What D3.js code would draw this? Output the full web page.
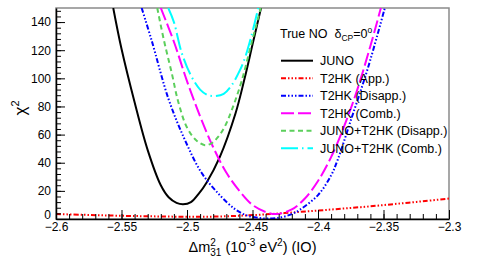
<!DOCTYPE html>
<html>
<head>
<meta charset="utf-8">
<script src="https://cdn.jsdelivr.net/npm/d3@7"></script>
<style>
  body { margin: 0; background: #fff; }
  text { font-family: "Liberation Sans", Arial, sans-serif; fill: #000; white-space: pre; }
</style>
</head>
<body>
<div id="plot"></div>
<script>
// chi2 vs dm31^2 (IO)
var juno = [[-2.5563,150],[-2.55,121],[-2.54,83],[-2.53,49],[-2.52,24],[-2.514,15.5],[-2.508,11.5],
            [-2.503,10.5],[-2.497,12],[-2.491,18],[-2.485,26],[-2.475,44],[-2.463,75],[-2.456,100],
            [-2.45,124],[-2.4435,150]];
var t2hkApp = [[-2.6,3.5],[-2.58,3.0],[-2.56,2.5],[-2.54,2.1],[-2.52,1.8],[-2.5,1.6],[-2.48,1.7],
               [-2.46,2.3],[-2.44,3.3],[-2.42,4.6],[-2.4,6.0],[-2.38,7.5],[-2.36,9.0],[-2.34,10.8],
               [-2.32,12.6],[-2.3,14.5]];
var t2hkDis = [[-2.5346,150],[-2.527,127],[-2.514,85],[-2.5015,56],[-2.489,33],[-2.476,18],
               [-2.4634,7],[-2.4557,3],[-2.447,1],[-2.437,0.3],[-2.428,1.2],[-2.42,3.5],[-2.414,6.5],
               [-2.4,17],[-2.39,31],[-2.385,42],[-2.375,70],[-2.362,107],[-2.349,150]];
var t2hkComb = [[-2.52,150],[-2.51,126],[-2.5,98],[-2.49,73],[-2.48,51],[-2.47,33],[-2.46,20],
                [-2.45,10],[-2.44,5],[-2.432,3.5],[-2.42,6.8],[-2.41,14.6],[-2.4,27],[-2.39,44],
                [-2.38,66],[-2.37,92],[-2.36,123],[-2.352,150]];
var junoT2hkDis = [[-2.5227,150],[-2.5176,127],[-2.5117,104],[-2.5066,83],[-2.5,65],[-2.493,56],
                   [-2.4863,52.5],[-2.481,54],[-2.4761,58.5],[-2.471,66],[-2.466,77],[-2.4583,98],
                   [-2.4505,126],[-2.4437,150]];
var junoT2hkComb = [[-2.5143,150],[-2.51,140],[-2.504,118],[-2.497,102],[-2.49,92],[-2.484,88],
                    [-2.478,87.5],[-2.472,89],[-2.466,95],[-2.4595,106],[-2.4556,115],[-2.4506,131],
                    [-2.4456,150]];

var xTicks = [-2.6, -2.55, -2.5, -2.45, -2.4, -2.35, -2.3];
var yTicks = [0, 20, 40, 60, 80, 100, 120, 140];
var legendNames = ["JUNO", "T2HK (App.)", "T2HK (Disapp.)", "T2HK (Comb.)",
                   "JUNO+T2HK (Disapp.)", "JUNO+T2HK (Comb.)"];

var series = [
  {data: juno,         color: "#000000", dash: null},
  {data: t2hkApp,      color: "#ff0000", dash: "5 2 1.5 2 1.5 2 1.5 2"},
  {data: t2hkDis,      color: "#0000ff", dash: "5 2 1.5 2 1.5 2 1.5 2"},
  {data: t2hkComb,     color: "#ff00ff", dash: "13 4"},
  {data: junoT2hkDis,  color: "#5ccf5c", dash: "5 3.5"},
  {data: junoT2hkComb, color: "#00ffff", dash: "17 4 1.5 4"}
];

var W = 491, H = 264;
var margin = {top: 8, right: 42, bottom: 45, left: 56};
var width = W - margin.left - margin.right,
    height = H - margin.top - margin.bottom;

var svg = d3.select("#plot").append("svg")
    .attr("width", W)
    .attr("height", H);

var x = d3.scaleLinear().domain([-2.6, -2.3]).range([margin.left, margin.left + width]);
var y = d3.scaleLinear().domain([0, 150]).range([margin.top + height, margin.top]);

svg.append("clipPath").attr("id", "clip")
  .append("rect")
    .attr("x", margin.left).attr("y", margin.top)
    .attr("width", width).attr("height", height);

// frame
svg.append("rect")
    .attr("x", margin.left).attr("y", margin.top)
    .attr("width", width).attr("height", height)
    .attr("fill", "none")
    .attr("stroke", "#8a8a8a")
    .attr("stroke-width", 1.5);

var line = d3.line()
    .x(function(d) { return x(d[0]); })
    .y(function(d) { return y(d[1]); })
    .curve(d3.curveCatmullRom.alpha(0.5));

var curves = svg.append("g").attr("clip-path", "url(#clip)");
series.forEach(function(s) {
  curves.append("path")
      .attr("d", line(s.data))
      .attr("fill", "none")
      .attr("stroke", s.color)
      .attr("stroke-width", 2)
      .attr("stroke-dasharray", s.dash);
});

// axes, ticks inward like ROOT
var fmt = function(d) { return d3.format("")(d).replace("-", "\u2212"); };
svg.append("g")
    .attr("transform", "translate(0," + (margin.top + height) + ")")
    .call(d3.axisBottom(x).tickValues(xTicks).tickSizeInner(-9).tickSizeOuter(0)
          .tickPadding(3).tickFormat(fmt));
svg.append("g")
    .attr("transform", "translate(0," + (margin.top + height) + ")")
    .call(d3.axisBottom(x).tickValues(d3.range(-2.6, -2.2999, 0.01)).tickSizeInner(-5)
          .tickSizeOuter(0).tickFormat(""))
    .select(".domain").remove();
var yAxis = svg.append("g")
    .attr("transform", "translate(" + margin.left + ",0)")
    .call(d3.axisLeft(y).tickValues(yTicks).tickSizeInner(-9).tickSizeOuter(0).tickPadding(5));
svg.append("g")
    .attr("transform", "translate(" + margin.left + ",0)")
    .call(d3.axisLeft(y).tickValues(d3.range(0, 150.1, 4)).tickSizeInner(-5)
          .tickSizeOuter(0).tickFormat(""))
    .select(".domain").remove();
svg.selectAll(".domain").attr("stroke", "#000").attr("stroke-width", 1.5);
svg.selectAll(".tick line").attr("stroke", "#000");
svg.selectAll(".tick text").attr("font-size", 12).attr("font-family", "Liberation Sans, Arial, sans-serif").attr("fill", "#000");
// lift the "0" a little so it does not sit on the -2.6 label
yAxis.selectAll(".tick text").filter(function(d) { return d === 0; })
    .attr("dy", "-0.08em");

// text with sub/superscripts
function rich(parent, px, py, parts, anchor) {
  var g = parent.append("g");
  var cx = 0, prevStart = 0;
  parts.forEach(function(p) {
    var start = p.stack ? prevStart : cx;
    var t = g.append("text")
        .attr("x", start).attr("y", p.dy || 0)
        .attr("font-size", p.size)
        .text(p.t);
    var w = t.node().getComputedTextLength();
    if (!p.stack) prevStart = start;
    cx = Math.max(cx, start + w);
  });
  var off = anchor === "middle" ? -cx / 2 : (anchor === "end" ? -cx : 0);
  g.attr("transform", "translate(" + (px + off) + "," + py + ")");
  return g;
}

rich(svg, margin.left + width / 2, 252, [
  {t: "\u0394m", size: 14.5},
  {t: "2", size: 10, dy: -6},
  {t: "31", size: 10, dy: 4, stack: true},
  {t: " (10", size: 14.5},
  {t: "-3", size: 10, dy: -6},
  {t: " eV", size: 14.5},
  {t: "2", size: 10, dy: -6},
  {t: ") (IO)", size: 14.5}
], "middle");

var yl = svg.append("g").attr("transform", "translate(26,108) rotate(-90)");
rich(yl, 0, 0, [
  {t: "\u03c7", size: 17},
  {t: "2", size: 11, dy: -7}
], "middle");

// legend
rich(svg, 280, 38, [
  {t: "True NO  \u03b4", size: 12.5},
  {t: "CP", size: 8.5, dy: 3},
  {t: "=0", size: 12.5},
  {t: "o", size: 8.5, dy: -5}
], "start");

var leg = svg.append("g");
series.forEach(function(s, i) {
  var ly = 60.7 + i * 17.5;
  leg.append("line")
      .attr("x1", 281).attr("x2", 313)
      .attr("y1", ly).attr("y2", ly)
      .attr("stroke", s.color)
      .attr("stroke-width", 2)
      .attr("stroke-dasharray", s.dash);
  leg.append("text")
      .attr("x", 320).attr("y", ly + 4.5)
      .attr("font-size", 12.5)
      .text(legendNames[i]);
});
</script>
</body>
</html>
